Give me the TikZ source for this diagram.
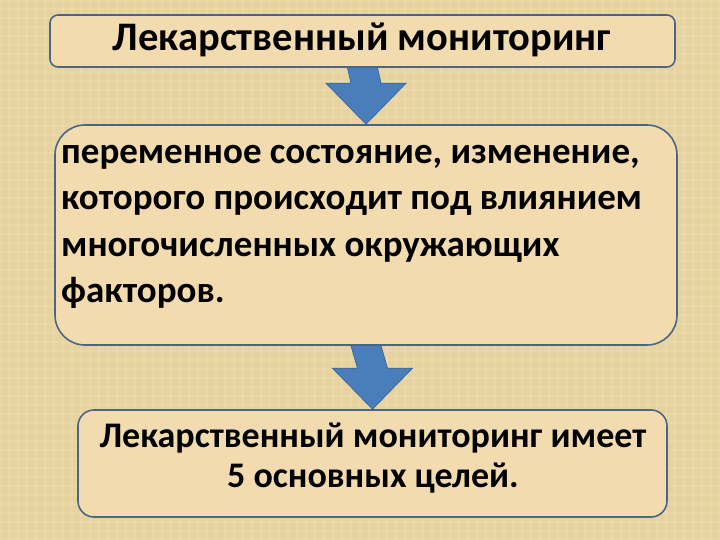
\documentclass[tikz,border=0pt]{standalone}
\usepackage{fontspec}
\setmainfont{Carlito}
\usetikzlibrary{calc}
\definecolor{bg}{HTML}{E7D39F}
\definecolor{boxfill}{HTML}{F2DBAE}
\definecolor{boxline}{HTML}{4B6585}
\definecolor{arrfill}{HTML}{4A7EBB}
\definecolor{arrline}{HTML}{3D6A9E}
\begin{document}
\begin{tikzpicture}[x=1pt,y=-1pt,
  box/.style={draw=boxline, line width=1.6pt, fill=boxfill, rectangle, inner sep=0pt},
  downarrow/.style={fill=arrfill, draw=arrline, line width=0.8pt},
  txt/.style={inner sep=0pt, text=black, font=\bfseries}]
\useasboundingbox (0,0) rectangle (720,540);
\fill[bg] (0,0) rectangle (720,540);
\foreach \i in {0,9,...,720} {\draw[white, opacity=0.10, line width=1.2pt] (\i,0) -- (\i,540);}
\foreach \j in {0,9,...,540} {\draw[white, opacity=0.10, line width=1.2pt] (0,\j) -- (720,\j);}
% boxes
\node[box, rounded corners=8pt, minimum width=625pt, minimum height=52pt] (b1) at (362.5,41) {};
\node[box, rounded corners=30pt, minimum width=622pt, minimum height=220pt] (b2) at (366,235) {};
\node[box, rounded corners=16pt, minimum width=589pt, minimum height=107pt] (b3) at (372.5,463.5) {};
% arrows
\foreach \a/\b in {b1/b2, b2/b3} {
  \path (372,0) |- (\a.south) coordinate (s);
  \path (372,0) |- (\b.north) coordinate (t);
  \draw[downarrow] ($(s)+(-15,0)$) -- ($(s)+(15,0)$) -- ($(t)+(15,-41)$) -- ($(t)+(40,-41)$) -- (t) -- ($(t)+(-40,-41)$) -- ($(t)+(-15,-41)$) -- cycle;
}
% texts
\node[txt, font=\bfseries\fontsize{40.5}{44}\selectfont, anchor=base] (t1) at (362,51) {Лекарственный мониторинг};
\node[txt, font=\bfseries\fontsize{37}{46.5}\selectfont, anchor=north west, align=left] (t2) at (61,145) {переменное состояние, изменение,\\которого происходит под влиянием\\многочисленных окружающих\\факторов.};
\node[txt, font=\bfseries\fontsize{36}{40}\selectfont, anchor=north, align=center] (t3) at (373,423) {Лекарственный мониторинг имеет\\5 основных целей.};
\end{tikzpicture}
\end{document}
